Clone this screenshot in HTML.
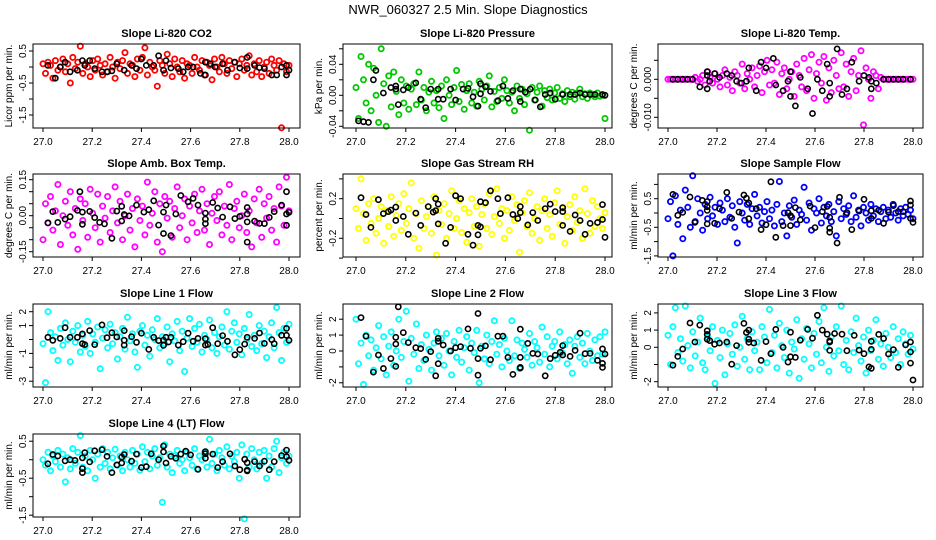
<!DOCTYPE html>
<html><head><meta charset="utf-8">
<style>
html,body{margin:0;padding:0;background:#fff;}
svg{display:block;font-family:"Liberation Sans",sans-serif;}
</style></head>
<body>
<svg id="chart" width="936" height="540" viewBox="0 0 936 540">
<text x="468" y="14" text-anchor="middle" font-size="13">NWR_060327  2.5 Min. Slope Diagnostics</text>
</svg>
<script>
// x tick values shared by all panels
const xTicks = [27.0, 27.2, 27.4, 27.6, 27.8, 28.0];
const xTickLabels = ["27.0", "27.2", "27.4", "27.6", "27.8", "28.0"];

// ---- Panel 1: CO2 ----
const co2Vals = [0.1,-0.2,0.15,0.05,-0.35,0.2,-0.1,0.0,0.25,-0.15,0.1,-0.5,0.3,-0.05,0.15,0.65,-0.2,0.1,0.0,-0.3,0.2,-0.1,0.25,0.05,-0.25,0.1,-0.15,0.3,0.0,-0.35,0.15,-0.05,0.2,0.45,-0.2,0.1,0.05,-0.3,0.25,-0.1,0.3,0.6,-0.25,0.15,0.0,-0.1,-0.6,0.2,0.05,-0.2,0.4,0.1,-0.3,0.25,0.0,-0.15,0.2,-0.35,0.1,0.05,-0.2,0.3,0.0,-0.1,0.2,-0.25,0.15,0.05,-0.4,0.25,0.0,-0.15,0.3,0.1,-0.2,0.2,-0.05,0.15,-0.3,0.1,0.25,-0.1,0.05,0.35,-0.25,0.1,-0.15,0.2,-0.3,0.0,0.15,-0.2,0.25,0.05,-0.1,0.2,-1.9,0.1,-0.15,0.05];
const co2BlkX = [27.02,27.05,27.07,27.09,27.11,27.14,27.16,27.17,27.19,27.21,27.24,27.26,27.28,27.30,27.33,27.36,27.38,27.40,27.42,27.45,27.47,27.49,27.50,27.52,27.55,27.57,27.59,27.61,27.64,27.66,27.66,27.68,27.70,27.73,27.75,27.78,27.80,27.83,27.83,27.86,27.88,27.90,27.93,27.95,27.97,27.99,27.99,28.0];
const co2BlkY = [0.05,-0.35,0.0,0.15,-0.15,-0.1,0.2,0.05,0.2,-0.05,-0.15,-0.15,-0.12,0.1,-0.1,0.05,-0.05,0.25,0.05,0.05,0.35,-0.1,0.2,-0.03,-0.05,-0.15,0.0,0.0,-0.2,-0.25,0.15,0.1,0.0,0.1,-0.1,0.15,-0.03,0.3,-0.05,0.05,-0.02,-0.05,-0.25,-0.25,0.0,0.05,-0.25,-0.1];

// ---- Panel 2: Pressure ----
const presVals = [0.01,-0.03,0.05,0.02,-0.01,0.04,-0.02,0.035,0.0,-0.035,0.06,0.015,-0.04,0.025,-0.015,0.03,0.005,-0.025,0.02,-0.01,0.012,-0.018,0.008,0.015,-0.012,0.03,-0.006,0.01,-0.02,0.004,0.018,-0.01,0.006,-0.016,0.012,-0.03,0.02,0.0,-0.012,0.01,0.032,-0.008,0.014,-0.018,0.006,0.015,-0.01,0.004,-0.014,0.018,0.008,-0.006,0.012,0.025,-0.015,0.005,-0.008,0.01,-0.004,0.02,0.006,-0.01,0.004,-0.02,0.012,-0.004,0.008,-0.012,0.002,-0.045,0.01,-0.006,0.004,0.012,-0.014,0.006,-0.003,0.008,-0.006,0.003,0.01,-0.004,0.002,-0.008,0.006,-0.002,0.004,-0.005,0.003,0.008,-0.002,0.002,-0.004,0.003,0.001,-0.002,0.003,-0.001,0.0,-0.03];
const presBlkX = [27.01,27.03,27.05,27.08,27.07,27.11,27.14,27.16,27.16,27.17,27.19,27.21,27.24,27.26,27.28,27.30,27.33,27.33,27.35,27.38,27.40,27.43,27.45,27.47,27.49,27.50,27.50,27.52,27.54,27.57,27.59,27.61,27.63,27.66,27.66,27.68,27.70,27.72,27.74,27.76,27.78,27.80,27.83,27.86,27.88,27.90,27.92,27.94,27.96,27.99,28.0];
const presBlkY = [-0.033,-0.034,-0.035,0.032,0.02,0.003,0.01,0.012,0.008,-0.012,0.007,0.01,0.016,-0.005,-0.016,0.008,0.008,-0.005,-0.005,0.008,-0.006,0.008,0.009,-0.002,-0.014,0.015,0.002,0.011,0.005,-0.007,0.012,-0.004,0.006,-0.008,0.008,0.004,0.008,-0.006,-0.015,0.001,0.003,-0.005,0.001,0.001,0.001,0.003,0.001,0.001,0.001,0.001,0.0];

// ---- Panel 3: Li-820 Temp ----
const tempVals = [0,0,0,0,0,0,0,0,0,0,0,0.0005,-0.0005,0,0.001,-0.0015,0.002,0.0005,-0.001,0.0015,0.0,-0.002,0.001,0.0025,-0.0015,0.0005,-0.003,0.002,0.001,-0.001,0.004,-0.0025,0.0015,0.0,0.003,-0.002,0.001,0.0035,-0.0035,0.002,0.005,-0.0015,0.0025,-0.001,0.0045,-0.004,0.0015,0.003,-0.0025,0.0,0.002,-0.0045,0.004,0.001,-0.002,0.0055,-0.003,0.0025,0.0065,-0.005,0.0015,0.0045,-0.001,0.006,-0.0055,0.003,-0.0035,0.005,0.001,-0.0025,0.007,-0.002,0.004,-0.0045,0.002,0.0055,-0.003,0.001,0.0075,-0.012,0.003,0.0,-0.005,0.002,0.001,-0.0025,0.0005,0.0,0,0,0,0,0,0,0,0,0,0,0,0];
const tempBlkX = [27.02,27.04,27.06,27.08,27.10,27.13,27.16,27.16,27.16,27.17,27.19,27.21,27.24,27.26,27.28,27.30,27.32,27.33,27.36,27.38,27.40,27.43,27.44,27.47,27.49,27.50,27.50,27.52,27.54,27.57,27.59,27.61,27.63,27.65,27.66,27.66,27.69,27.71,27.73,27.75,27.78,27.80,27.82,27.83,27.83,27.85,27.88,27.90,27.92,27.94,27.96,27.99];
const tempBlkY = [0,0,0,0,0,-0.002,-0.0025,0.002,0.001,-0.0005,0.0015,0.0005,0.0015,0.001,-0.0005,-0.001,-0.0005,0.003,-0.003,0.0045,0.003,0.0055,-0.0015,-0.003,-0.0005,0.002,-0.0045,-0.007,0.0005,-0.0025,-0.009,0.0,-0.003,0.004,-0.001,-0.0045,0.008,-0.004,-0.0025,0.0045,-0.0005,0.001,0.0005,-0.0025,-0.0005,-0.001,0,0,0,0,0,0];

// ---- Panel 4: Amb Box Temp ----
const ambVals = [-0.1,0.05,-0.03,0.08,-0.06,0.02,0.13,-0.12,0.0,0.06,-0.04,0.1,-0.08,0.03,-0.14,0.07,-0.02,0.05,-0.09,0.11,0.01,-0.05,0.09,-0.11,0.04,-0.01,0.08,-0.07,0.02,0.12,-0.03,0.06,-0.1,0.0,0.09,-0.06,0.03,-0.13,0.07,-0.02,0.04,-0.08,0.14,-0.04,0.01,0.1,-0.11,0.05,-0.15,0.08,-0.01,0.06,-0.09,0.03,0.12,-0.05,0.0,0.07,-0.1,0.04,-0.03,0.09,-0.07,0.02,0.11,-0.06,0.05,-0.12,0.01,0.08,-0.02,0.1,-0.08,0.04,-0.04,0.13,-0.1,0.03,0.06,-0.05,0.0,0.09,-0.07,0.02,-0.13,0.07,-0.03,0.11,-0.09,0.05,-0.01,0.08,-0.06,0.03,-0.11,0.12,0.04,-0.04,0.16,0.02];
const ambBlkX = [27.02,27.04,27.06,27.09,27.11,27.14,27.15,27.16,27.16,27.19,27.21,27.23,27.25,27.28,27.30,27.32,27.33,27.32,27.35,27.38,27.41,27.43,27.45,27.47,27.49,27.50,27.49,27.52,27.54,27.56,27.59,27.61,27.63,27.66,27.66,27.66,27.69,27.71,27.73,27.76,27.78,27.80,27.83,27.83,27.83,27.83,27.86,27.88,27.90,27.92,27.94,27.97,27.99,27.99,28.0,27.99];
const ambBlkY = [-0.03,0.017,-0.028,-0.014,-0.004,0.022,0.1,-0.036,0.015,0.018,-0.008,-0.028,-0.034,-0.094,0.019,0.039,0.005,-0.022,-0.001,0.044,0.015,0.025,0.062,-0.039,0.015,0.044,-0.074,-0.083,0.007,0.084,0.058,0.072,0.044,0.011,-0.033,-0.014,0.055,0.032,-0.006,0.037,-0.012,-0.003,0.007,-0.026,-0.11,0.034,-0.023,-0.032,-0.033,-0.007,0.017,0.044,0.1,0.007,0.014,-0.04];

// ---- Panel 5: Gas Stream RH ----
const rhVals = [0.1,-0.1,0.4,0.05,-0.22,0.15,-0.05,0.2,-0.15,0.0,0.12,-0.25,0.08,-0.08,0.22,-0.18,0.03,0.15,-0.12,0.25,-0.05,0.1,0.36,-0.2,0.05,-0.3,0.18,-0.1,0.02,0.12,-0.15,0.22,-0.37,0.08,-0.06,0.15,-0.2,0.05,0.28,-0.1,0.0,0.18,-0.14,0.1,-0.24,0.06,0.2,-0.08,0.12,-0.28,0.04,0.15,-0.1,0.25,-0.16,0.02,0.3,-0.05,0.1,-0.2,0.08,-0.12,0.22,-0.02,0.14,-0.34,0.06,0.18,-0.08,0.26,-0.15,0.0,0.12,-0.22,0.08,0.2,-0.1,0.04,-0.18,0.16,0.28,-0.06,0.1,-0.25,0.02,0.14,-0.12,0.22,-0.04,0.08,-0.2,0.3,0.05,-0.15,0.18,-0.08,0.12,0.0,-0.1,0.06];
const rhBlkX = [27.02,27.04,27.06,27.09,27.11,27.13,27.14,27.16,27.16,27.19,27.21,27.24,27.26,27.29,27.31,27.32,27.32,27.33,27.33,27.36,27.38,27.40,27.42,27.45,27.47,27.49,27.50,27.49,27.50,27.52,27.54,27.57,27.58,27.61,27.63,27.65,27.66,27.66,27.69,27.71,27.73,27.76,27.78,27.80,27.83,27.83,27.83,27.86,27.88,27.90,27.92,27.94,27.97,27.99,27.99,28.0];
const rhBlkY = [0.21,0.04,-0.09,0.19,0.05,0.07,0.085,-0.02,0.115,0.02,-0.16,0.055,-0.07,0.12,0.065,0.08,0.2,0.145,-0.055,-0.25,-0.09,0.23,0.2,-0.16,-0.27,-0.07,-0.085,-0.165,0.17,0.16,0.28,0.2,0.05,0.21,0.04,0.0,0.06,0.12,-0.065,0.06,-0.02,0.1,0.145,0.07,0.07,0.11,-0.07,-0.13,0.035,-0.02,-0.16,-0.05,-0.04,0.14,-0.01,-0.19];

// ---- Panel 6: Sample Flow ----
const sfVals = [-0.2,0.4,-1.5,0.6,-0.4,0.1,-0.9,0.8,0.2,-0.5,1.3,-0.3,0.5,0.0,-0.6,0.3,-0.2,0.55,-0.1,0.2,-0.4,0.35,0.1,-0.3,0.5,-0.15,0.25,-0.5,-1.05,0.4,0.0,-0.25,0.3,-0.4,0.15,0.65,-0.1,0.2,-0.35,0.05,0.4,-0.2,0.1,-0.45,0.3,1.1,-0.3,0.0,-0.8,0.25,-0.15,0.45,-0.4,0.1,-0.05,0.9,-0.25,0.35,-0.6,0.15,0.0,0.5,-0.35,0.2,-0.1,0.3,-0.3,0.05,-0.8,0.4,-0.2,0.15,-0.05,0.25,-0.3,0.6,-0.15,0.1,-0.45,0.2,0.0,-0.25,0.3,-0.1,0.15,-0.3,0.05,0.2,-0.2,0.1,-0.15,0.3,0.0,-0.25,0.15,-0.1,0.2,-0.05,0.1,-0.2];
const sfBlkX = [27.02,27.04,27.06,27.09,27.11,27.14,27.16,27.16,27.16,27.16,27.19,27.21,27.24,27.26,27.29,27.31,27.32,27.33,27.33,27.36,27.38,27.40,27.42,27.44,27.47,27.49,27.50,27.50,27.52,27.54,27.58,27.60,27.63,27.65,27.66,27.66,27.66,27.69,27.70,27.73,27.75,27.78,27.80,27.83,27.83,27.86,27.88,27.90,27.92,27.94,27.96,27.99,27.99,27.99,28.0];
const sfBlkY = [0.65,-0.08,0.02,0.56,-0.33,0.44,0.4,0.22,0.09,-0.38,-0.36,0.15,0.72,-0.19,0.03,0.63,0.52,0.35,-0.2,0.15,-0.58,-0.41,1.09,-0.85,-0.44,0.01,-0.09,-0.44,0.19,-0.24,0.24,-0.51,0.05,0.23,-0.53,-0.67,-0.15,-1.05,0.55,0.01,-0.58,0.07,0.48,0.08,-0.19,0.1,-0.36,0.03,0.26,0.05,0.05,0.42,0.28,-0.19,-0.33];

// ---- Panel 7: Line 1 Flow ----
const l1Vals = [-0.3,-3.1,2.0,0.5,-0.8,0.2,-1.5,0.8,-0.4,1.2,0.0,-1.6,0.6,-0.2,1.0,-0.9,0.3,-0.5,1.3,-1.0,0.4,-0.2,0.9,-2.1,0.1,0.7,-0.6,1.1,-0.3,0.5,-1.4,0.2,0.8,-0.7,1.6,-0.1,0.4,-0.9,-2.0,0.6,1.0,-0.4,0.3,-1.2,0.7,0.0,1.5,-0.6,0.2,-0.3,0.9,-1.6,0.4,-0.1,1.3,-0.8,0.6,-2.3,0.1,1.5,-0.5,0.8,-0.2,1.1,-0.9,0.3,0.0,1.4,-0.6,0.5,-1.0,0.2,0.9,-0.4,2.0,-0.7,0.6,1.2,-0.2,0.4,-1.1,0.8,0.0,1.8,-0.5,0.3,-0.8,1.0,-0.3,0.6,-1.3,0.2,1.2,-0.6,2.3,0.5,-1.5,0.8,-0.2,1.1];
const l1BlkX = [27.02,27.04,27.07,27.09,27.11,27.14,27.16,27.16,27.17,27.19,27.21,27.24,27.26,27.28,27.30,27.33,27.33,27.33,27.36,27.38,27.40,27.43,27.45,27.47,27.49,27.49,27.50,27.51,27.52,27.55,27.57,27.59,27.61,27.63,27.66,27.66,27.67,27.69,27.71,27.73,27.75,27.78,27.80,27.82,27.83,27.86,27.88,27.90,27.93,27.94,27.97,27.99,27.99,28.0];
const l1BlkY = [0.16,-0.06,0.08,0.85,0.16,0.16,0.4,-0.3,-0.37,0.64,-0.37,1.05,0.13,0.49,0.18,-0.4,0.64,-0.06,0.2,-0.2,0.45,-0.71,0.16,-0.08,-0.04,-0.42,0.16,-0.18,0.16,-0.4,-0.16,0.45,-0.13,0.08,-0.4,0.06,-0.35,0.85,-0.3,0.28,-0.13,-1.1,-0.73,-0.33,0.16,0.08,0.47,-0.28,-0.01,-0.3,0.3,0.3,0.8,-0.06];

// ---- Panel 8: Line 2 Flow ----
const l2Vals = [2.0,-0.8,0.5,-2.1,1.0,-0.3,0.7,-1.2,0.2,1.6,-0.5,0.9,-1.5,0.3,1.2,-0.9,0.0,2.0,-0.4,0.6,2.5,-1.9,0.8,-0.2,1.7,-1.1,0.4,-0.6,1.0,0.1,-1.2,0.5,1.2,-0.3,0.8,-0.9,1.1,0.0,-1.5,0.6,-0.4,1.3,-0.7,0.2,0.9,-1.2,0.5,-0.1,1.3,-2.0,0.3,-0.5,1.0,-0.8,0.6,1.9,-0.2,0.4,-1.0,0.8,0.0,-0.6,1.9,-0.3,0.7,-1.1,0.5,0.1,-0.4,1.1,-0.9,0.6,0.2,-0.7,1.5,-0.2,0.9,-1.0,0.3,0.6,-0.5,1.2,-0.1,0.4,-0.8,0.7,-1.4,0.3,0.9,-0.4,0.5,-0.8,1.1,0.0,-0.6,0.7,-0.3,0.9,-0.2,1.2];
const l2BlkX = [27.02,27.04,27.07,27.09,27.11,27.14,27.16,27.16,27.16,27.17,27.19,27.21,27.24,27.26,27.28,27.30,27.32,27.33,27.33,27.33,27.35,27.38,27.40,27.42,27.45,27.46,27.49,27.49,27.49,27.50,27.52,27.54,27.57,27.59,27.61,27.63,27.66,27.66,27.66,27.66,27.69,27.71,27.73,27.76,27.78,27.80,27.82,27.83,27.83,27.86,27.88,27.90,27.92,27.94,27.97,27.99,27.99,27.99,28.0];
const l2BlkY = [2.1,0.93,-1.33,-0.25,-1.1,-0.48,0.86,0.44,-0.97,2.78,1.16,0.53,0.21,0.15,-0.53,-0.04,-1.56,-0.8,0.61,0.8,0.38,0.0,0.21,0.27,1.39,0.17,-0.48,2.36,-1.52,0.17,0.32,-0.55,0.93,0.93,-0.4,-1.47,-1.07,-0.4,1.37,-1.03,0.48,-0.15,-0.19,-1.56,-0.48,-0.27,-0.08,0.34,-0.25,-0.34,0.04,1.12,-0.17,-0.15,-0.59,0.13,-0.78,-1.03,-0.19];

// ---- Panel 9: Line 3 Flow ----
const l3Vals = [0.7,-1.0,1.2,2.3,-0.3,0.5,-0.8,2.4,0.1,-1.2,0.9,-0.5,0.3,1.7,-0.9,-1.3,0.6,-0.2,1.2,-2.1,0.4,-0.6,1.0,-1.6,0.2,0.8,-0.4,1.3,-1.1,0.0,1.8,-0.7,0.5,-1.3,0.9,-0.2,0.3,-1.3,1.2,0.6,-0.9,2.2,-0.3,0.7,-1.2,1.4,0.1,-0.6,1.0,-1.5,0.3,-0.1,1.6,-1.8,0.5,-0.7,1.1,0.2,-1.2,0.8,-0.4,1.5,-0.9,2.3,0.0,-1.4,0.6,-0.5,1.2,-0.2,2.4,-1.0,0.4,-1.3,0.9,-0.3,1.7,0.1,-0.8,0.6,-1.5,1.0,-0.2,0.4,1.6,-0.7,0.2,-1.1,0.8,0.0,-0.6,1.2,-0.3,0.5,-1.0,0.9,0.2,-0.4,0.7,-0.1];
const l3BlkX = [27.02,27.04,27.06,27.09,27.11,27.13,27.16,27.16,27.16,27.17,27.19,27.21,27.24,27.26,27.28,27.31,27.32,27.33,27.33,27.33,27.35,27.38,27.40,27.42,27.44,27.47,27.49,27.50,27.50,27.52,27.54,27.57,27.59,27.61,27.63,27.65,27.66,27.66,27.66,27.68,27.71,27.73,27.76,27.78,27.80,27.82,27.83,27.83,27.83,27.86,27.88,27.90,27.92,27.94,27.97,27.99,27.99,27.99,28.0];
const l3BlkY = [-1.04,-0.53,-0.1,1.41,0.31,1.29,0.96,0.75,0.47,0.39,0.18,0.25,0.31,-0.98,0.1,1.39,0.86,1.0,0.47,0.29,0.25,-0.76,0.33,-0.37,1.04,0.0,-0.86,-0.55,0.88,-0.59,0.41,1.04,0.53,1.86,1.0,0.76,0.37,0.31,-0.18,0.8,0.76,-0.2,0.69,-0.16,-0.37,-1.14,-1.22,0.35,-0.12,0.75,0.51,-0.39,-0.14,-1.16,0.14,0.31,-0.27,-0.92,-1.9];

// ---- Panel 10: Line 4 (LT) Flow ----
const l4Vals = [0.0,-0.15,0.2,-0.3,0.1,-0.05,0.25,-0.2,0.15,-0.6,0.05,-0.25,0.3,-0.1,0.2,0.65,-0.2,0.1,-0.3,0.25,0.0,-0.5,0.15,-0.2,0.3,-0.1,0.2,-0.25,0.05,0.28,-0.15,0.1,-0.3,0.2,0.0,-0.2,0.25,-0.1,0.15,-0.28,0.35,-0.05,0.2,-0.25,0.1,0.3,-0.15,0.05,-1.15,0.4,-0.2,0.15,-0.35,0.1,0.25,-0.1,0.0,-0.3,0.2,0.05,-0.15,0.3,-0.25,0.1,0.0,0.2,-0.2,0.55,-0.1,0.15,-0.3,0.25,0.05,-0.15,0.35,-0.25,0.1,-0.05,0.2,-0.5,0.4,-1.6,0.15,-0.2,0.3,0.0,-0.25,0.2,-0.1,0.25,-0.5,0.1,-0.2,0.3,0.5,-0.35,0.05,0.2,-0.1,0.1];
const l4BlkX = [27.02,27.04,27.06,27.09,27.11,27.13,27.16,27.16,27.16,27.17,27.19,27.21,27.24,27.26,27.28,27.30,27.32,27.32,27.33,27.36,27.38,27.40,27.42,27.44,27.47,27.49,27.49,27.50,27.52,27.54,27.56,27.58,27.60,27.63,27.66,27.66,27.66,27.69,27.71,27.73,27.76,27.78,27.80,27.82,27.83,27.83,27.83,27.86,27.88,27.90,27.92,27.94,27.97,27.99,27.99,28.0];
const l4BlkY = [-0.11,0.14,0.1,-0.03,0.0,-0.02,0.05,-0.24,-0.35,0.19,-0.06,0.24,0.27,0.09,-0.35,-0.14,-0.09,0.07,0.14,-0.04,0.15,-0.21,-0.19,0.16,0.0,0.21,0.37,-0.09,0.09,0.04,0.15,0.23,0.13,-0.26,0.22,0.04,0.16,0.15,-0.21,-0.05,0.16,-0.17,-0.27,0.01,-0.3,-0.08,-0.28,-0.05,-0.17,-0.04,-0.27,-0.05,0.11,0.26,0.08,-0.02];

// y-axis ticks and labels per panel
const yTicks1 = [0.5,0,-0.5,-1,-1.5];           const yLab1 = [[0.5,"0.5"],[-0.5,"-0.5"],[-1.5,"-1.5"]];
const yTicks2 = [0.06,0.04,0.02,0,-0.02,-0.04]; const yLab2 = [[0.04,"0.04"],[0,"0.00"],[-0.04,"-0.04"]];
const yTicks3 = [0.005,0,-0.005,-0.01];         const yLab3 = [[0,"0.000"],[-0.01,"-0.010"]];
const yTicks4 = [0.15,0.1,0.05,0,-0.05,-0.1,-0.15]; const yLab4 = [[0.15,"0.15"],[0,"0.00"],[-0.15,"-0.15"]];
const yTicks5 = [0.4,0.2,0,-0.2,-0.4];          const yLab5 = [[0.2,"0.2"],[-0.2,"-0.2"]];
const yTicks6 = [1,0.5,0,-0.5,-1,-1.5];         const yLab6 = [[0.5,"0.5"],[-0.5,"-0.5"],[-1.5,"-1.5"]];
const yTicks7 = [2,1,0,-1,-2,-3];               const yLab7 = [[2,"2"],[1,"1"],[-1,"-1"],[-3,"-3"]];
const yTicks8 = [2,1,0,-1,-2];                  const yLab8 = [[2,"2"],[1,"1"],[0,"0"],[-2,"-2"]];
const yTicks9 = [2,1,0,-1,-2];                  const yLab9 = [[2,"2"],[1,"1"],[0,"0"],[-2,"-2"]];
const yTicks10 = [0.5,0,-0.5,-1,-1.5];          const yLab10 = [[0.5,"0.5"],[-0.5,"-0.5"],[-1.5,"-1.5"]];

// layout (geometry only)
const cols = [{x0:33,x1:300,xa:43,xb:289},{x0:343,x1:612,xa:356,xb:605},{x0:658,x1:923,xa:668,xb:913}];
const rows = [{y0:44,y1:128},{y0:174,y1:257},{y0:304,y1:387},{y0:434,y1:517}];

const panels = [
 {name:"co2",title:"Slope Li-820 CO2",ylab:"Licor ppm per min.",c:0,r:0,yz:67,k:32,col:"#ff0000",vals:co2Vals,bx:co2BlkX,by:co2BlkY,yt:yTicks1,yl:yLab1},
 {name:"pressure",title:"Slope Li-820 Pressure",ylab:"kPa per min.",c:1,r:0,yz:95.3,k:775,col:"#00c800",vals:presVals,bx:presBlkX,by:presBlkY,yt:yTicks2,yl:yLab2},
 {name:"temp",title:"Slope Li-820 Temp.",ylab:"degrees C per min.",c:2,r:0,yz:79.3,k:3800,col:"#ff00ff",vals:tempVals,bx:tempBlkX,by:tempBlkY,yt:yTicks3,yl:yLab3},
 {name:"amb-box-temp",title:"Slope Amb. Box Temp.",ylab:"degrees C per min.",c:0,r:1,yz:215.7,k:240,col:"#ff00ff",vals:ambVals,bx:ambBlkX,by:ambBlkY,yt:yTicks4,yl:yLab4},
 {name:"gas-rh",title:"Slope Gas Stream RH",ylab:"percent per min.",c:1,r:1,yz:218.5,k:99,col:"#ffff00",vals:rhVals,bx:rhBlkX,by:rhBlkY,yt:yTicks5,yl:yLab5},
 {name:"sample-flow",title:"Slope Sample Flow",ylab:"ml/min per min.",c:2,r:1,yz:213,k:28.6,col:"#0000ff",vals:sfVals,bx:sfBlkX,by:sfBlkY,yt:yTicks6,yl:yLab6},
 {name:"line1-flow",title:"Slope Line 1 Flow",ylab:"ml/min per min.",c:0,r:2,yz:339.5,k:13.9,col:"#00ffff",vals:l1Vals,bx:l1BlkX,by:l1BlkY,yt:yTicks7,yl:yLab7},
 {name:"line2-flow",title:"Slope Line 2 Flow",ylab:"ml/min per min.",c:1,r:2,yz:351,k:15.9,col:"#00ffff",vals:l2Vals,bx:l2BlkX,by:l2BlkY,yt:yTicks8,yl:yLab8},
 {name:"line3-flow",title:"Slope Line 3 Flow",ylab:"ml/min per min.",c:2,r:2,yz:347.3,k:17.2,col:"#00ffff",vals:l3Vals,bx:l3BlkX,by:l3BlkY,yt:yTicks9,yl:yLab9},
 {name:"line4-flow",title:"Slope Line 4 (LT) Flow",ylab:"ml/min per min.",c:0,r:3,yz:459.7,k:37,col:"#00ffff",vals:l4Vals,bx:l4BlkX,by:l4BlkY,yt:yTicks10,yl:yLab10}
];

const NS = "http://www.w3.org/2000/svg";
const svg = document.getElementById("chart");
function mk(tag, attrs, parent){
  const e = document.createElementNS(NS, tag);
  for (const k in attrs) e.setAttribute(k, attrs[k]);
  parent.appendChild(e);
  return e;
}

panels.forEach(p => {
  const C = cols[p.c], R = rows[p.r];
  const xs = t => C.xa + (t - 27) * (C.xb - C.xa);
  const ys = v => p.yz - v * p.k;
  const g = mk("g", {}, svg);
  
  

  const tt = mk("text", {x:(C.x0+C.x1)/2, y:R.y0-7, "text-anchor":"middle", "font-size":"11", "font-weight":"bold"}, g);
  tt.textContent = p.title;
  
  

  // colored series at regular sample times across the day
  const pg = mk("g", {fill:"none", stroke:p.col, "stroke-width":"1.8"}, g);
  
  
  const n = p.vals.length;
  p.vals.forEach((v, i) => {
    const t = 27 + i / (n - 1);
    const c = mk("circle", {cx:xs(t).toFixed(1), cy:ys(v).toFixed(1), r:"2.6"}, pg);
    
    
  });
  const bg = mk("g", {fill:"none", stroke:"#000", "stroke-width":"1.6"}, g);
  
  
  p.bx.forEach((t, i) => {
    const c = mk("circle", {cx:xs(t).toFixed(1), cy:ys(p.by[i]).toFixed(1), r:"2.6"}, bg);
    
    
  });

  const box = mk("rect", {x:C.x0, y:R.y0, width:C.x1-C.x0, height:R.y1-R.y0, fill:"none", stroke:"#000", "stroke-width":"1"}, g);
  
  

  const xa = mk("g", {"font-size":"10"}, g);
  
  
  xTicks.forEach((t, i) => {
    const x = xs(t);
    mk("line", {x1:x, x2:x, y1:R.y1, y2:R.y1+4, stroke:"#000"}, xa);
    const tx = mk("text", {x:x, y:R.y1+17, "text-anchor":"middle"}, xa);
    tx.textContent = xTickLabels[i];
    
    
  });

  const ya = mk("g", {"font-size":"10"}, g);
  
  
  p.yt.forEach(v => {
    const y = ys(v);
    mk("line", {x1:C.x0-4, x2:C.x0, y1:y, y2:y, stroke:"#000"}, ya);
  });
  p.yl.forEach(([v, s]) => {
    const y = ys(v), x = C.x0 - 7;
    const tx = mk("text", {x:x, y:y, "text-anchor":"middle", transform:`rotate(-90 ${x} ${y})`}, ya);
    tx.textContent = s;
    
    
  });
  const yx = C.x0 - 21, yy = (R.y0 + R.y1) / 2;
  const yt = mk("text", {x:yx, y:yy, "text-anchor":"middle", "font-size":"10", transform:`rotate(-90 ${yx} ${yy})`}, g);
  yt.textContent = p.ylab;
  
  
});
</script>
</body></html>
